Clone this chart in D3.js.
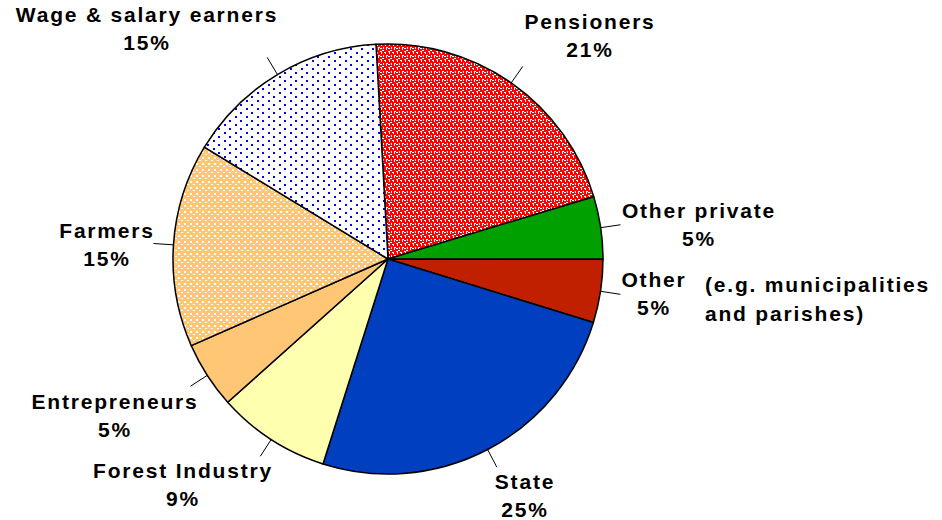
<!DOCTYPE html>
<html>
<head>
<meta charset="utf-8">
<script src="https://cdn.jsdelivr.net/npm/d3@7"></script>
<style>
  html, body { margin: 0; padding: 0; background: #fff; }
  svg { display: block; }
  text { font-family: "Liberation Sans", Arial, sans-serif; font-weight: bold; font-size: 21px; letter-spacing: 1.8px; fill: #000; }
</style>
</head>
<body>
<div id="chart"></div>
<script>
(() => {
// owners, clockwise from the top
const owners = [
  "Pensioners",
  "Other private",
  "Other",
  "State",
  "Forest Industry",
  "Entrepreneurs",
  "Farmers",
  "Wage & salary earners"
];

const shares = [21.2, 4.7, 4.75, 25.1, 8.5, 5.0, 15.3, 15.4];

const ownerColors = {
  "Pensioners": "#FF0000",
  "Other private": "#00A000",
  "Other": "#C02000",
  "State": "#0040C0",
  "Forest Industry": "#FFFFB0",
  "Entrepreneurs": "#FFC675",
  "Farmers": "#FFC675",
  "Wage & salary earners": "#FFFFFF"
};

// label placement: x, y of first line, anchor
const labelPos = {
  "Pensioners": [590, 29, "middle"],
  "Other private": [699, 218, "middle"],
  "Other": [654, 287, "middle"],
  "State": [525, 489, "middle"],
  "Forest Industry": [183, 478, "middle"],
  "Entrepreneurs": [115, 409, "middle"],
  "Farmers": [107, 238, "middle"],
  "Wage & salary earners": [147, 22, "middle"]
};

const width = 942;
const height = 520;
const cx = 388, cy = 259, radius = 215;
const startAngle = -3.2 * Math.PI / 180;

const svg = d3.select("#chart")
  .append("svg")
  .attr("width", width)
  .attr("height", height);

const defs = svg.append("defs");

// Pensioners : red with white pixel speckle
{
  const p = defs.append("pattern")
    .attr("id", "pat-pensioners")
    .attr("patternUnits", "userSpaceOnUse")
    .attr("width", 8).attr("height", 8);
  p.append("rect").attr("width", 8).attr("height", 8).attr("fill", "#FF0000");
  p.append("path")
    .attr("d", "M0,0h2v1h-2z M1,1h1v2h-1z M4,1h2v1h-2z M5,2h1v1h-1z M3,4h1v2h-1z M0,5h2v1h-2z M6,4h2v1h-2z M6,5h1v2h-1z M2,7h2v1h-2z")
    .attr("fill", "#FFFFFF")
    .attr("shape-rendering", "crispEdges");
}

// Wage & salary earners : white with blue dots
{
  const p = defs.append("pattern")
    .attr("id", "pat-wage")
    .attr("patternUnits", "userSpaceOnUse")
    .attr("width", 11).attr("height", 8);
  p.append("rect").attr("width", 11).attr("height", 8).attr("fill", "#FFFFFF");
  p.append("rect").attr("x", 1).attr("y", 1).attr("width", 2).attr("height", 2).attr("fill", "#0000FF");
  p.append("rect").attr("x", 6).attr("y", 5).attr("width", 2).attr("height", 2).attr("fill", "#0000FF");
}

// Farmers : orange with white squares
{
  const p = defs.append("pattern")
    .attr("id", "pat-farmers")
    .attr("patternUnits", "userSpaceOnUse")
    .attr("width", 6).attr("height", 6);
  p.append("rect").attr("width", 6).attr("height", 6).attr("fill", "#FFC675");
  p.append("rect").attr("x", 0).attr("y", 0).attr("width", 2).attr("height", 2).attr("fill", "#FFFFFF");
  p.append("rect").attr("x", 3).attr("y", 3).attr("width", 2).attr("height", 1).attr("fill", "#FFFFFF");
}

const ownerFill = {
  "Pensioners": "url(#pat-pensioners)",
  "Wage & salary earners": "url(#pat-wage)",
  "Farmers": "url(#pat-farmers)"
};

const data = owners.map((o, i) => ({ owner: o, value: shares[i] }));
const total = d3.sum(shares);

const pie = d3.pie()
  .value(d => d.value)
  .sort(null)
  .startAngle(startAngle)
  .endAngle(startAngle + 2 * Math.PI);

const arcs = pie(data);

const arc = d3.arc().innerRadius(0).outerRadius(radius);
const edgeArc = d3.arc().innerRadius(radius).outerRadius(radius);
const outerArc = d3.arc().innerRadius(radius + 20).outerRadius(radius + 20);

const g = svg.append("g").attr("transform", `translate(${cx},${cy})`);

g.selectAll("path.slice")
  .data(arcs)
  .enter()
  .append("path")
  .attr("class", "slice")
  .attr("d", arc)
  .attr("fill", d => ownerFill[d.data.owner] || ownerColors[d.data.owner])
  .attr("stroke", "#000")
  .attr("stroke-width", 1.5)
  .attr("stroke-linejoin", "round");

// leader lines
g.selectAll("line.leader")
  .data(arcs)
  .enter()
  .append("line")
  .attr("class", "leader")
  .attr("x1", d => edgeArc.centroid(d)[0])
  .attr("y1", d => edgeArc.centroid(d)[1])
  .attr("x2", d => outerArc.centroid(d)[0])
  .attr("y2", d => outerArc.centroid(d)[1])
  .attr("stroke", "#000")
  .attr("stroke-width", 1);

// labels
arcs.forEach(d => {
  const [x, y, anchor] = labelPos[d.data.owner];
  const pct = Math.round(d.data.value / total * 100) + "%";
  const t = svg.append("text")
    .attr("x", x)
    .attr("y", y)
    .attr("text-anchor", anchor);
  t.append("tspan").attr("x", x).text(d.data.owner);
  t.append("tspan").attr("x", x).attr("dy", 28).text(pct);
});

svg.append("text")
  .attr("x", 705)
  .attr("y", 292)
  .selectAll("tspan")
  .data(["(e.g. municipalities", "and parishes)"])
  .enter()
  .append("tspan")
  .attr("x", 705)
  .attr("dy", (d, i) => i === 0 ? 0 : 29)
  .text(d => d);
})();
</script>
</body>
</html>
